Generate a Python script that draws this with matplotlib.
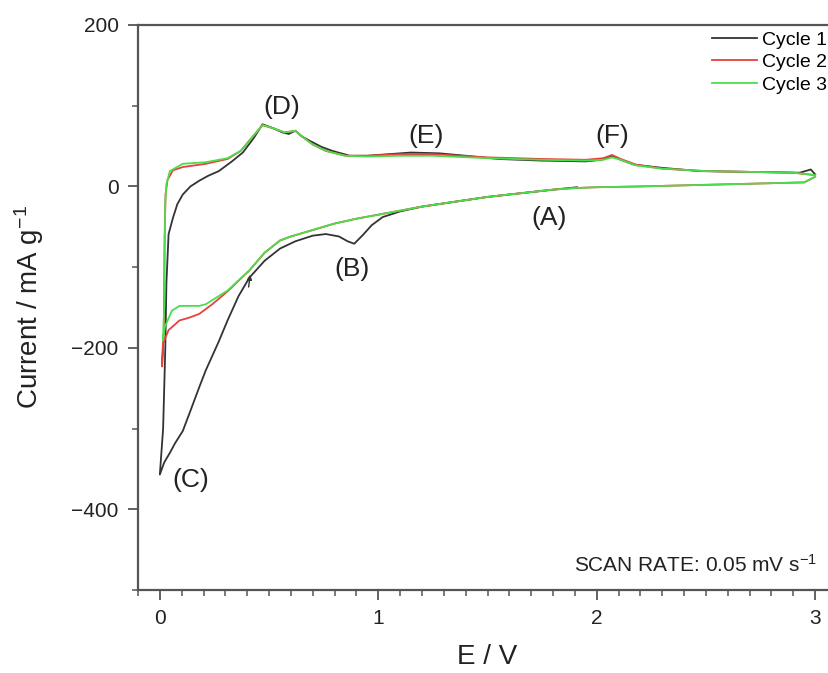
import numpy as np
import matplotlib
matplotlib.use("Agg")
import matplotlib.pyplot as plt
from matplotlib.ticker import MultipleLocator

plt.rcParams['font.family'] = ['Liberation Sans', 'DejaVu Sans']
plt.rcParams['mathtext.default'] = 'regular'

# cycle 1: OCV -> 0 V (cathodic), then 0 -> 3 V (anodic)
e_ciclo1 = [1.91, 1.80, 1.70, 1.60, 1.50, 1.40, 1.30, 1.20, 1.10, 1.02, 0.97, 0.93, 0.89, 0.86,
            0.82, 0.76, 0.70, 0.62, 0.55, 0.48, 0.41, 0.36, 0.31, 0.27, 0.21, 0.18, 0.14, 0.105,
            0.07, 0.046, 0.02, 0.0,
            0.015, 0.025, 0.03, 0.04, 0.06, 0.08, 0.105, 0.14, 0.18, 0.22, 0.27, 0.33, 0.38, 0.43,
            0.47, 0.52, 0.56, 0.59, 0.62, 0.65, 0.69, 0.74, 0.79, 0.87, 0.95, 1.05, 1.15, 1.28,
            1.40, 1.55, 1.75, 1.95, 2.02, 2.07, 2.11, 2.17, 2.30, 2.47, 2.70, 2.93, 2.98, 3.0]
i_ciclo1 = [-1, -4, -7, -10, -13, -17, -21, -25, -31, -38, -48, -60, -71, -68,
            -62, -59, -61, -68, -77, -92, -113, -136, -166, -192, -228, -249, -278, -303,
            -318, -330, -342, -357,
            -300, -200, -120, -59, -39, -22, -10, 0, 7, 13, 19, 31, 42, 60,
            77, 72, 67, 65, 69, 62, 56, 49, 44, 38, 38, 40, 42, 41,
            38, 34, 32, 31, 33, 38, 33, 27, 23, 19, 18, 17, 21, 15]

# cycle 2: 3 V -> 0 V -> 3 V
e_ciclo2 = [3.0, 2.95, 2.80, 2.50, 2.20, 2.00, 1.90, 1.80, 1.70, 1.60, 1.50, 1.40, 1.30, 1.20,
            1.10, 1.00, 0.90, 0.80, 0.70, 0.60, 0.55, 0.48, 0.41, 0.31, 0.24, 0.18, 0.13, 0.09,
            0.04, 0.014, 0.01,
            0.018, 0.02, 0.022, 0.026, 0.035, 0.06, 0.105, 0.21, 0.31, 0.37, 0.42, 0.47, 0.52,
            0.57, 0.60, 0.62, 0.65, 0.70, 0.76, 0.85, 0.95, 1.10, 1.25, 1.50, 1.75, 1.95, 2.03,
            2.07, 2.11, 2.18, 2.30, 2.50, 2.70, 2.90, 3.0]
i_ciclo2 = [12, 5, 4, 2, 0, -1, -2, -4, -7, -10, -13, -17, -21, -25,
            -30, -35, -40, -46, -54, -62, -67, -82, -104, -130, -146, -158, -163, -166,
            -178, -195, -223,
            -180, -120, -60, -10, 8, 20, 24, 28, 34, 44, 60, 76, 72,
            67, 68, 69, 62, 52, 44, 38, 38, 40, 40, 36, 34, 33, 35,
            39, 34, 27, 22, 19, 18, 17, 14]

# cycle 3: 3 V -> 0 V -> 3 V
e_ciclo3 = [3.0, 2.95, 2.80, 2.50, 2.20, 2.00, 1.90, 1.80, 1.70, 1.60, 1.50, 1.40, 1.30, 1.20,
            1.10, 1.00, 0.90, 0.80, 0.70, 0.60, 0.55, 0.48, 0.41, 0.31, 0.21, 0.18, 0.09, 0.055,
            0.023, 0.014,
            0.02, 0.022, 0.025, 0.03, 0.046, 0.105, 0.21, 0.31, 0.37, 0.42, 0.47, 0.52,
            0.57, 0.60, 0.62, 0.65, 0.70, 0.76, 0.85, 0.95, 1.10, 1.25, 1.50, 1.75, 1.95, 2.03,
            2.07, 2.11, 2.18, 2.30, 2.50, 2.70, 2.90, 3.0]
i_ciclo3 = [12, 5, 4, 2, 0, -1, -2, -4, -7, -10, -13, -17, -21, -25,
            -30, -35, -40, -46, -54, -62, -67, -82, -104, -129, -146, -148, -148, -154,
            -174, -191,
            -150, -80, -20, 3, 19, 28, 30, 35, 44, 60, 76, 72,
            67, 68, 69, 62, 52, 44, 38, 37, 38, 38, 35, 33, 32, 33,
            36, 33, 26, 22, 19, 18, 17, 14]

ziklo_izenak = ["Cycle 1", "Cycle 2", "Cycle 3"]
koloreak = ["#333333", "#e8403a", "#4ade4a"]

# peak labels
gailur_izenak = ["(A)", "(B)", "(C)", "(D)", "(E)", "(F)"]
gailur_x = [1.78, 0.88, 0.14, 0.56, 1.22, 2.07]
gailur_y = [-39, -102, -364, 98, 62, 62]

fig = plt.figure(figsize=(8.29, 6.73), dpi=100)
ax = fig.add_axes([138 / 829, 83 / 673, 699 / 829, 565 / 673])

datuak = [(e_ciclo1, i_ciclo1), (e_ciclo2, i_ciclo2), (e_ciclo3, i_ciclo3)]
for (e, i), izena, kol in zip(datuak, ziklo_izenak, koloreak):
    ax.plot(e, i, color=kol, linewidth=1.3, label=izena)

# small arrow on the first cathodic sweep
ax.annotate("", xy=(0.415, -106), xytext=(0.405, -128),
            arrowprops=dict(arrowstyle="-|>", color="#333333", lw=1.0, mutation_scale=7))

for txt, x, y in zip(gailur_izenak, gailur_x, gailur_y):
    ax.text(x, y, txt, fontsize=19, ha="center", va="center", color="#222222")

ax.text(3.007, -477, r"SCAN RATE: 0.05 mV s$^{-1}$", fontsize=15, ha="right",
        va="baseline", color="#222222")

ax.set_xlim(-0.1, 3.1)
ax.set_ylim(-500, 200)
ax.xaxis.set_major_locator(MultipleLocator(1))
ax.xaxis.set_minor_locator(MultipleLocator(0.1))
ax.set_yticks([-400, -200, 0, 200])
ax.yaxis.set_minor_locator(MultipleLocator(100))

for s in ["left", "bottom", "top"]:
    ax.spines[s].set_color("#555555")
    ax.spines[s].set_linewidth(1.6)
ax.spines["right"].set_visible(False)

ax.tick_params(which="major", direction="out", length=7, width=1.3, color="#555555",
               labelsize=15, labelcolor="#222222")
ax.tick_params(which="minor", direction="out", length=4, width=1.1, color="#555555")
ax.tick_params(axis="x", which="major", pad=6.5)
ax.tick_params(axis="y", which="major", pad=7)

ax.set_xlabel("E / V", fontsize=20, color="#222222")
ax.set_ylabel(r"Current / mA g$^{-1}$", fontsize=20, color="#222222")
ax.xaxis.set_label_coords(0.5, -0.096)
ax.yaxis.set_label_coords(-0.1316, 0.5)

ax.legend(loc="upper left", bbox_to_anchor=(712 / 829, 1 - 31 / 673),
          bbox_transform=fig.transFigure, frameon=False, fontsize=14,
          handlelength=2.3, handletextpad=0.25, labelspacing=0.25,
          borderpad=0, borderaxespad=0)

fig.savefig("out.png", dpi=100)
